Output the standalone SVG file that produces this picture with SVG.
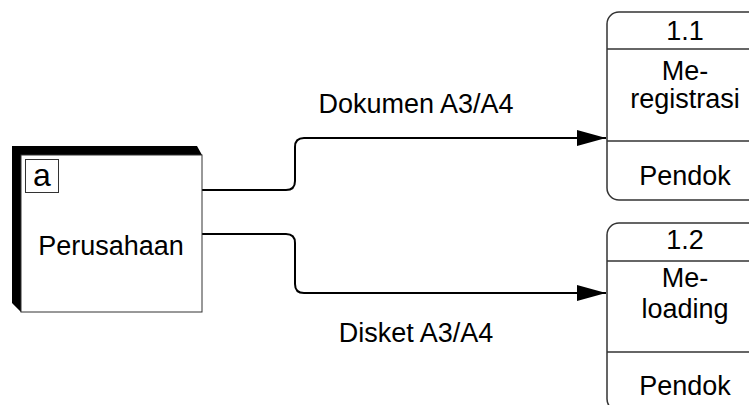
<svg xmlns="http://www.w3.org/2000/svg" width="749" height="405" viewBox="0 0 749 405">
<defs>
<style>
text{font-family:"Liberation Sans",Arial,sans-serif;font-size:27px;fill:#000;text-anchor:middle}
.box{fill:#fff;stroke:#333;stroke-width:1.5}
.div{stroke:#333;stroke-width:1.5}
.flow{fill:none;stroke:#000;stroke-width:2}
</style>
<marker id="arr" markerWidth="30" markerHeight="18" refX="29" refY="9" orient="auto" markerUnits="userSpaceOnUse">
<path d="M0,1 L29,9 L0,17 Z" fill="#000"/>
</marker>
</defs>
<g id="connectors">
<path class="flow" d="M202,190 H286 Q295,190 295,181 V147 Q295,138 304,138 H606" marker-end="url(#arr)"/>
<text x="416" y="113">Dokumen A3/A4</text>
<path class="flow" d="M202,234 H286 Q295,234 295,243 V284 Q295,293 304,293 H606" marker-end="url(#arr)"/>
<text x="416" y="342">Disket A3/A4</text>
</g>
<g id="entity-a">
<polygon points="12,146 197,146 202,155 21,155 21,312 12,303" fill="#000"/>
<rect x="21" y="155" width="181" height="157" fill="#fff" stroke="#333" stroke-width="1"/>
<rect x="25.5" y="159.5" width="33" height="33" fill="#fff" stroke="#333" stroke-width="1"/>
<text x="42" y="186" style="font-size:32px">a</text>
<text x="111" y="255">Perusahaan</text>
</g>
<g id="process-1-1">
<rect class="box" x="607" y="12" width="156" height="188" rx="12" ry="12"/>
<line class="div" x1="607" y1="49" x2="763" y2="49"/>
<line class="div" x1="607" y1="141" x2="763" y2="141"/>
<text x="685" y="40">1.1</text>
<text x="685" y="80">Me-<tspan x="685" dy="28">registrasi</tspan></text>
<text x="685" y="185">Pendok</text>
</g>
<g id="process-1-2">
<rect class="box" x="607" y="223" width="156" height="188" rx="12" ry="12"/>
<line class="div" x1="607" y1="261" x2="763" y2="261"/>
<line class="div" x1="607" y1="352" x2="763" y2="352"/>
<text x="685" y="249">1.2</text>
<text x="685" y="287">Me-<tspan x="685" dy="31">loading</tspan></text>
<text x="685" y="395">Pendok</text>
</g>
</svg>
